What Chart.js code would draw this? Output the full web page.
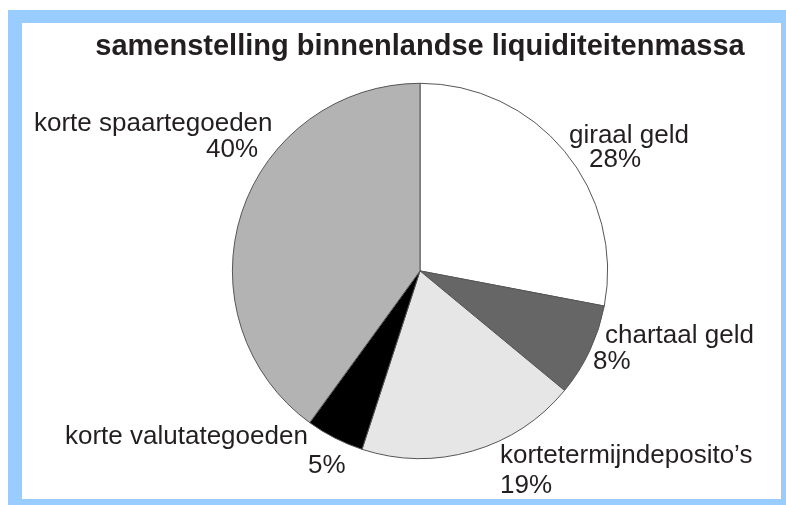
<!DOCTYPE html>
<html>
<head>
<meta charset="utf-8">
<script src="https://cdn.jsdelivr.net/npm/chart.js@4/dist/chart.umd.min.js"></script>
<style>
  html, body { margin:0; padding:0; background:#fff; overflow:hidden; }
  #frame {
    position:absolute; left:8px; top:10px; width:759px; height:476px;
    border:solid #99CCFF; border-width:13px 14px 14px 14px; background:#fff;
  }
  #c { position:absolute; left:0; top:0; }
</style>
</head>
<body>
<div id="frame"></div>
<canvas id="c" width="786" height="505"></canvas>
<script>
  // Data (aandeel in %)
  const categories = ['giraal geld', 'chartaal geld', 'kortetermijndeposito\u2019s', 'korte valutategoeden', 'korte spaartegoeden'];
  const shares     = [28, 8, 19, 5, 40];
  const fills      = ['#ffffff', '#666666', '#e6e6e6', '#000000', '#b3b3b3'];

  // label placement relative to the pie centre: [dx, dy, align] for name and percentage
  const namePos = [[149,-128,'left'], [185,72,'left'], [80,192,'left'], [-355,173,'left'], [-386,-140,'left']];
  const pctPos  = [[169,-104,'left'], [173,98,'left'], [80,222,'left'], [-112,202,'left'], [-162,-114,'right']];

  const FONT = 'Arial, Helvetica, sans-serif';

  const sliceLabels = {
    id:'sliceLabels',
    afterDraw(chart){
      const arcs = chart.getDatasetMeta(0).data;
      if(!arcs.length) return;
      const cx = arcs[0].x, cy = arcs[0].y;
      const ctx = chart.ctx;
      ctx.save();
      ctx.fillStyle = '#231f20';
      ctx.font = '26px ' + FONT;
      ctx.textBaseline = 'alphabetic';
      categories.forEach((name,i)=>{
        const [nx,ny,na] = namePos[i];
        ctx.textAlign = na;
        ctx.fillText(name, cx+nx, cy+ny);
        const [px,py,pa] = pctPos[i];
        ctx.textAlign = pa;
        ctx.fillText(shares[i] + '%', cx+px, cy+py);
      });
      ctx.restore();
    }
  };

  new Chart(document.getElementById('c'), {
    type:'pie',
    data:{
      labels: categories,
      datasets:[{
        data: shares,
        backgroundColor: fills,
        borderColor:'#555555',
        borderWidth:1,
        hoverOffset:0
      }]
    },
    options:{
      responsive:false,
      animation:false,
      devicePixelRatio:1,
      // pie is centred in a wide chart area; height sets the radius
      layout:{ padding:{left:54, right:0, top:0, bottom:46} },
      plugins:{
        legend:{display:false},
        tooltip:{enabled:false},
        title:{
          display:true,
          text:'samenstelling binnenlandse liquiditeitenmassa',
          color:'#231f20',
          font:{family:FONT, size:29, weight:'bold', lineHeight:1.2},
          padding:{top:30, bottom:18}
        }
      }
    },
    plugins:[sliceLabels]
  });
</script>
</body>
</html>
